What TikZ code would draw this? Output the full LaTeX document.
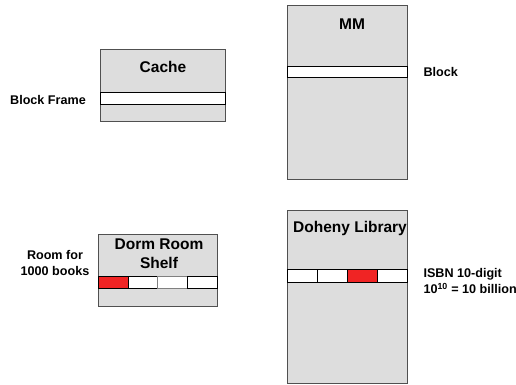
\documentclass[tikz,border=0pt]{standalone}
\usepackage{fontspec}
\setmainfont{Liberation Sans}
\definecolor{boxgray}{RGB}{221,221,221}
\definecolor{edgegray}{RGB}{80,80,80}
\definecolor{bookred}{RGB}{240,36,36}
\tikzset{
  store/.style={draw=edgegray, fill=boxgray, line width=0.9pt},
  slot/.style={draw=black, fill=white, line width=0.8pt},
  title/.style={font=\bfseries\fontsize{15.5}{19}\selectfont},
  lbl/.style={font=\bfseries\fontsize{12.6}{16}\selectfont, align=center}
}
\begin{document}
\begin{tikzpicture}[x=1pt, y=-1pt]
\useasboundingbox (0,0) rectangle (516,384);
% cache and main memory
\draw [store] (100,49) rectangle (225,121);
\draw [slot] (100,92) rectangle (225,104);
\node [title] (cache) at (163,67) {Cache};
\node [lbl] (frame) at (48,100) {Block Frame};
\draw [store] (287,5) rectangle (407,179);
\draw [slot] (287,66) rectangle (407,77);
\node [title] (mm) at (352,24) {MM};
\node [lbl, anchor=west] (block) at (420,72) {Block};
% shelf and library
\draw [store] (98,234) rectangle (217,306);
\draw [slot, fill=bookred] (98,276) rectangle (128,288);
\draw [slot] (128,276) rectangle (157,288);
\draw [slot, draw=gray] (157,276) rectangle (187,288);
\draw [slot] (187,276) rectangle (217,288);
\node [title, align=center] (shelf) at (159,254) {Dorm Room\\Shelf};
\node [lbl] (room) at (55,263) {Room for\\1000 books};
\draw [store] (287,210) rectangle (407,383);
\draw [slot] (287,269) rectangle (317,282);
\draw [slot] (317,269) rectangle (347,282);
\draw [slot, fill=bookred] (347,269) rectangle (377,282);
\draw [slot] (377,269) rectangle (407,282);
\node [title] (lib) at (350,228) {Doheny Library};
\node [lbl, align=left, anchor=west] (isbn) at (420,281) {ISBN 10-digit\\10\textsuperscript{10} = 10 billion};
\end{tikzpicture}
\end{document}
